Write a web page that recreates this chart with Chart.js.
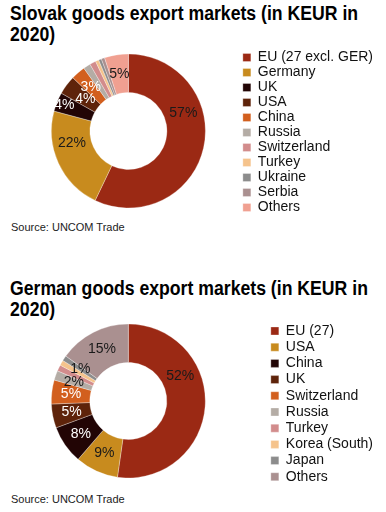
<!DOCTYPE html>
<html>
<head>
<meta charset="utf-8">
<script src="https://cdn.jsdelivr.net/npm/chart.js@4"></script>
<style>
  html, body { margin: 0; padding: 0; background: #fff; }
  body { width: 386px; height: 512px; position: relative; overflow: hidden; font-family: "Liberation Sans", Arial, sans-serif; color: #000; }
  .title { position: absolute; left: 10px; font-size: 19.5px; font-weight: bold; line-height: 21px; white-space: nowrap; transform: scaleX(0.905); transform-origin: 0 0; }
  .source { position: absolute; left: 11px; font-size: 11px; line-height: 13px; color: #222; }
  canvas { position: absolute; }
</style>
</head>
<body>
<div class="title" style="top:3px">Slovak goods export markets (in KEUR in<br>2020)</div>
<canvas id="skChart" width="368" height="172" style="left:15px;top:45px"></canvas>
<div class="source" style="top:221px">Source: UNCOM Trade</div>

<div class="title" style="top:278px">German goods export markets (in KEUR in<br>2020)</div>
<canvas id="deChart" width="395" height="174" style="left:-12px;top:314px"></canvas>
<div class="source" style="top:493px">Source: UNCOM Trade</div>

<script>
// Slovak export shares (%)
const skMarkets = ["EU (27 excl. GER)", "Germany", "UK", "USA", "China", "Russia", "Switzerland", "Turkey", "Ukraine", "Serbia", "Others"];
const skShares = [57, 22, 4, 4, 3, 1.5, 1.3, 0.7, 0.6, 0.7, 5];
const skLabelled = ["EU (27 excl. GER)", "Germany", "UK", "USA", "China", "Others"];

// German export shares (%)
const deMarkets = ["EU (27)", "USA", "China", "UK", "Switzerland", "Russia", "Turkey", "Korea (South)", "Japan", "Others"];
const deShares = [52, 9, 8, 5, 5, 2, 1.3, 1.1, 1.1, 15];
const deLabelled = ["EU (27)", "USA", "China", "UK", "Switzerland", "Russia", "Japan", "Others"];

const skColors = ["#9b2914", "#c88b1e", "#220505", "#5e230a", "#d25f1e", "#b4aca5", "#d28c8c", "#f5c38c", "#8c8c8c", "#aa9090", "#f0a091"];
const deColors = ["#9b2914", "#c88b1e", "#220505", "#5e230a", "#d25f1e", "#b4aca5", "#d28c8c", "#f5c38c", "#8c8c8c", "#aa9090"];

const FONT = '"Liberation Sans", Arial, sans-serif';

// percentage labels drawn on top of the arcs
const pctLabels = {
  id: "pctLabels",
  afterDatasetsDraw(chart, args, opts) {
    const ctx = chart.ctx;
    const meta = chart.getDatasetMeta(0);
    const values = chart.data.datasets[0].data;
    ctx.save();
    ctx.font = "14px " + FONT;
    ctx.textAlign = "center";
    ctx.textBaseline = "middle";
    meta.data.forEach((arc, i) => {
      const name = chart.data.labels[i];
      if (!opts.show.includes(name)) return;
      const p = arc.getProps(["x", "y", "startAngle", "endAngle", "innerRadius", "outerRadius"], true);
      const t = (opts.tweak && opts.tweak[name]) || {};
      const a = p.startAngle + (p.endAngle - p.startAngle) * (t.at ?? 0.5);
      const r = (p.innerRadius + p.outerRadius) / 2 * (t.r ?? 1);
      ctx.fillStyle = opts.light.includes(name) ? "#fff" : "#1a1a1a";
      ctx.fillText(Math.round(values[i]) + "%", p.x + Math.cos(a) * r, p.y + Math.sin(a) * r);
    });
    ctx.restore();
  }
};

// legendShift: an empty legend title used only to nudge the legend rows down
function makeDonut(id, labels, data, colors, legendPad, legendShift, labelOpts) {
  return new Chart(document.getElementById(id), {
    type: "doughnut",
    data: {
      labels,
      datasets: [{
        data,
        backgroundColor: colors,
        borderColor: "rgba(255,255,255,0.6)",
        borderWidth: 0.5
      }]
    },
    options: {
      responsive: false,
      animation: false,
      radius: 77,
      cutout: "50%",
      plugins: {
        tooltip: { enabled: false },
        legend: {
          position: "right",
          title: { display: true, text: "", padding: 0, font: { size: legendShift } },
          labels: {
            boxWidth: 8,
            boxHeight: 8,
            padding: legendPad,
            color: "#111",
            font: { family: FONT, size: 14 }
          }
        },
        pctLabels: labelOpts
      }
    },
    plugins: [pctLabels]
  });
}

makeDonut("skChart", skMarkets, skShares, skColors, 1, 2.5, {
  show: skLabelled,
  light: ["UK", "USA", "China"],
  tweak: {
    "EU (27 excl. GER)": { at: 0.35 },
    "Germany": { at: 0.66 },
    "UK": { r: 1.2 },
    "USA": { r: 0.93 }
  }
});

makeDonut("deChart", deMarkets, deShares, deColors, 2.2, 4.8, {
  show: deLabelled,
  light: ["China", "UK", "Switzerland"],
  tweak: {
    "EU (27)": { at: 0.34 }
  }
});
</script>
</body>
</html>
